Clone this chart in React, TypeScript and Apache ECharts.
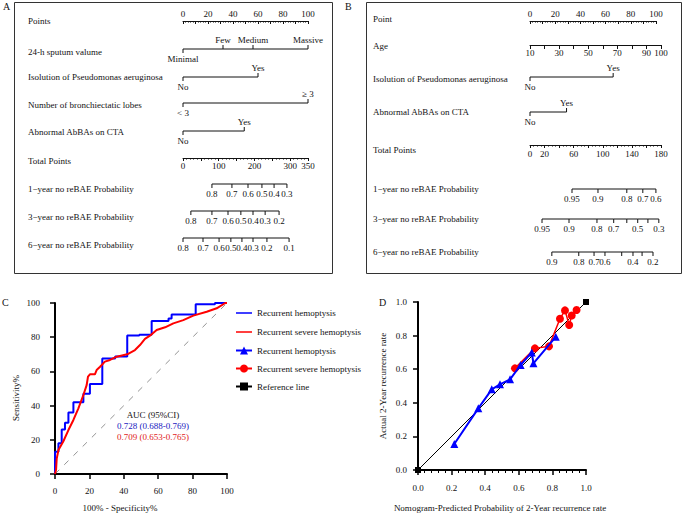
import React, { useEffect, useRef } from 'react';
import * as echarts from 'echarts';

const FONT = '"Liberation Serif", "Times New Roman", serif';
const BLUE = '#0000ff';
const RED = '#ff0000';
const INK = '#111';

// ---------- Panel A nomogram ----------
const aPointsLabels = [0, 20, 40, 60, 80, 100];
const aSputumLevels = ['Minimal', 'Few', 'Medium', 'Massive'];
const aSputumPoints = [0, 32, 56, 100];
const aPseudoLevels = ['No', 'Yes'];
const aPseudoPoints = [0, 60];
const aLobesLevels = ['< 3', '≥ 3'];
const aLobesPoints = [0, 100];
const aAbbaLevels = ['No', 'Yes'];
const aAbbaPoints = [0, 49];
const aTotalMax = 350;
const aTotalLabels = [0, 100, 200, 300, 350];
const aProb1Labels = ['0.8', '0.7', '0.6', '0.5', '0.4', '0.3'];
const aProb1Total = [81, 137, 182, 221, 255, 291];
const aProb3Labels = ['0.8', '0.7', '0.6', '0.5', '0.4', '0.3', '0.2'];
const aProb3Total = [22, 81, 126, 162, 196, 230, 269];
const aProb6Labels = ['0.8', '0.7', '0.6', '0.5', '0.4', '0.3', '0.2', '0.1'];
const aProb6Total = [0, 56, 101, 134, 165, 196, 235, 297];

// ---------- Panel B nomogram ----------
const bPointsLabels = [0, 20, 40, 60, 80, 100];
const bAgeLabels = [10, 30, 50, 70, 90, 100];
const bPseudoLevels = ['No', 'Yes'];
const bPseudoPoints = [0, 66];
const bAbbaLevels = ['No', 'Yes'];
const bAbbaPoints = [0, 29];
const bTotalMax = 180;
const bTotalLabels = [0, 20, 60, 100, 140, 180];
const bProb1Labels = ['0.95', '0.9', '0.8', '0.7', '0.6'];
const bProb1Total = [57.7, 93.4, 133, 155, 173];
const bProb3Labels = ['0.95', '0.9', '0.8', '0.7', '0.6', '0.5', '0.4', '0.3'];
const bProb3Total = [16.5, 53.6, 92, 115, 133, 148, 162, 177];
const bProb3Shown = [true, true, true, true, false, true, false, true];
const bProb6Labels = ['0.9', '0.8', '0.7', '0.6', '0.5', '0.4', '0.3', '0.2'];
const bProb6Total = [30, 67, 88, 103, 126, 141.5, 154, 169];
const bProb6Shown = [true, true, true, true, false, true, false, true];

// ---------- Panel C ROC ----------
const rocBlue: number[][] = [
  [0, 0], [0, 13], [2, 13], [2, 18], [3.9, 18], [3.9, 26], [5.8, 26], [5.8, 30], [7.8, 30], [7.8, 36],
  [10.7, 36], [10.7, 42], [16.5, 42], [16.5, 47], [20.3, 47], [20.3, 52.6], [27.5, 52.6], [27.5, 67.6],
  [35, 67.6], [35, 68.7], [42, 68.7], [42, 81], [49, 81], [49, 81.5], [56.2, 81.5], [56.2, 89.5],
  [66, 89.5], [66, 91], [67.8, 91], [67.8, 93.3], [81.8, 93.3], [81.8, 99.2], [93, 99.2], [93, 100], [100, 100],
];
const rocRed: number[][] = [
  [0, 0], [0.6, 2.3], [1, 9], [2, 14], [4.8, 19], [7.8, 25.7], [10.7, 31.6], [13.6, 38.4], [16.5, 46.2],
  [18.4, 52], [19.2, 57], [20.3, 58.3], [23.2, 58.3], [24.2, 60.8], [26.2, 62.7], [29, 65.7], [32, 66.7],
  [35.9, 68.6], [42, 70], [46.5, 72.5], [49.4, 75.4], [52.3, 79], [55.2, 80.9], [59.1, 84.2], [64, 85.8],
  [68.8, 88.1], [74.6, 90], [80.4, 92.6], [88.2, 94.9], [94, 96.9], [99, 100], [100, 100],
];
const rocDiagonal: number[][] = [[0, 0], [100, 100]];
const aucTitle = 'AUC (95%CI)';
const aucBlue = '0.728 (0.688-0.769)';
const aucRed = '0.709 (0.653-0.765)';

// ---------- Panel D calibration ----------
const calBlueX = [0.216, 0.359, 0.439, 0.488, 0.548, 0.611, 0.677, 0.687, 0.82];
const calBlueY = [0.155, 0.367, 0.48, 0.51, 0.54, 0.625, 0.7, 0.635, 0.793];
const calRedX = [0.577, 0.696, 0.78, 0.845, 0.875, 0.9, 0.915, 0.944];
const calRedY = [0.605, 0.724, 0.736, 0.9, 0.95, 0.863, 0.92, 0.952];
const refX = [0, 1];
const refY = [0, 1];

const legendNames = [
  'Recurrent hemoptysis|C',
  'Recurrent severe hemoptysis|C',
  'Recurrent hemoptysis|D',
  'Recurrent severe hemoptysis|D',
  'Reference line|D',
];
// thin horizontal bar inside a 16x10 box (corner dots keep the box size)
const LINE_ICON = 'path://M0,4.2h16v1.6h-16zM0,0h0.01v0.01h-0.01zM15.99,9.99h0.01v0.01h-0.01z';

function buildOption() {
  const grid: any[] = [];
  const xAxis: any[] = [];
  const yAxis: any[] = [];
  const series: any[] = [];
  const graphic: any[] = [];

  const text = (x: number, y: number, t: string, extra: any = {}) =>
    graphic.push({
      type: 'text', x, y, silent: true,
      style: { text: t, fontSize: 9, fontFamily: FONT, fill: INK, verticalAlign: 'middle', ...extra },
    });

  function addAxisRow(left: number, width: number, lineY: number, min: number, max: number,
    interval: number, labels: number[], pos: 'top' | 'bottom', minorSplit: number, tickLen: number, margin = 3) {
    const gi = grid.length;
    grid.push({ left, width, top: pos === 'top' ? lineY : lineY - 10, height: 10 });
    xAxis.push({
      gridIndex: gi, type: 'value', min, max, interval, position: pos,
      axisLine: { onZero: false, lineStyle: { color: INK, width: 1 } },
      axisTick: { show: true, inside: pos === 'top', length: tickLen, lineStyle: { color: INK, width: 1 } },
      minorTick: { show: minorSplit > 0, splitNumber: minorSplit || 5, length: tickLen / 2, lineStyle: { color: INK, width: 1 } },
      axisLabel: {
        margin, fontSize: 9, fontFamily: FONT, color: INK, hideOverlap: false,
        showMinLabel: true, showMaxLabel: true,
        formatter: (v: number) => (labels.indexOf(Math.round(v * 1000) / 1000) >= 0 ? String(v) : ''),
      },
      splitLine: { show: false }, minorSplitLine: { show: false },
    });
    yAxis.push({ gridIndex: gi, type: 'value', min: 0, max: 1, show: false });
  }

  function addScaleRow(left: number, width: number, lineY: number, min: number, max: number,
    xs: number[], labels: string[], up: boolean[], shown?: boolean[]) {
    const gi = grid.length;
    grid.push({ left, width, top: lineY - 10, height: 20 });
    xAxis.push({ gridIndex: gi, type: 'value', min, max, show: false, splitLine: { show: false } });
    yAxis.push({ gridIndex: gi, type: 'value', min: -1, max: 1, show: false, splitLine: { show: false } });
    series.push({
      type: 'line', xAxisIndex: gi, yAxisIndex: gi, silent: true,
      symbol: 'rect', symbolSize: [1, 4], showSymbol: true, showAllSymbol: true,
      lineStyle: { color: INK, width: 1 }, itemStyle: { color: INK },
      data: xs.map((x, i) => ({
        value: [x, 0],
        symbolOffset: [0, up[i] ? -2 : 2],
        label: {
          show: shown ? shown[i] : true, position: up[i] ? 'top' : 'bottom', distance: 1,
          formatter: labels[i], fontSize: 9, fontFamily: FONT, color: INK,
        },
      })),
    });
  }

  const upLast = (n: number) => Array.from({ length: n }, (_, i) => i > 0);
  const allDown = (n: number) => Array.from({ length: n }, () => false);

  // ---- Panel A ----
  const aL = 183, aW = 125;
  addAxisRow(aL, aW, 21, 0, 100, 10, aPointsLabels, 'top', 5, 3);
  addScaleRow(aL, aW, 49, 0, 100, aSputumPoints, aSputumLevels, upLast(aSputumLevels.length));
  addScaleRow(aL, aW, 77, 0, 100, aPseudoPoints, aPseudoLevels, upLast(aPseudoLevels.length));
  addScaleRow(aL, aW, 103, 0, 100, aLobesPoints, aLobesLevels, upLast(aLobesLevels.length));
  addScaleRow(aL, aW, 131, 0, 100, aAbbaPoints, aAbbaLevels, upLast(aAbbaLevels.length));
  addAxisRow(aL, aW, 158, 0, aTotalMax, 50, aTotalLabels, 'bottom', 5, 3);
  addScaleRow(aL, aW, 184, 0, aTotalMax, aProb1Total, aProb1Labels, allDown(aProb1Labels.length));
  addScaleRow(aL, aW, 211, 0, aTotalMax, aProb3Total, aProb3Labels, allDown(aProb3Labels.length));
  addScaleRow(aL, aW, 238, 0, aTotalMax, aProb6Total, aProb6Labels, allDown(aProb6Labels.length));

  // ---- Panel B ----
  const bL = 530, bW = 126, bWT = 131;
  addAxisRow(bL, bW, 21, 0, 100, 10, bPointsLabels, 'top', 5, 3);
  addAxisRow(bL, bWT, 45, 10, 100, 10, bAgeLabels, 'bottom', 0, 4);
  addScaleRow(bL, bW, 77, 0, 100, bPseudoPoints, bPseudoLevels, upLast(bPseudoLevels.length));
  addScaleRow(bL, bW, 112, 0, 100, bAbbaPoints, bAbbaLevels, upLast(bAbbaLevels.length));
  addAxisRow(bL, bWT, 145, 0, bTotalMax, 20, bTotalLabels, 'bottom', 4, 3, 4);
  addScaleRow(bL, bWT, 189, 0, bTotalMax, bProb1Total, bProb1Labels, allDown(bProb1Labels.length));
  addScaleRow(bL, bWT, 219, 0, bTotalMax, bProb3Total, bProb3Labels, allDown(bProb3Labels.length), bProb3Shown);
  addScaleRow(bL, bWT, 252, 0, bTotalMax, bProb6Total, bProb6Labels, allDown(bProb6Labels.length), bProb6Shown);

  // ---- Panel C ----
  const cGi = grid.length;
  grid.push({ left: 55, top: 303, width: 172, height: 171 });
  const axisCommon = {
    axisLine: { onZero: false, lineStyle: { color: '#000', width: 2 } },
    axisTick: { show: true, length: 5, lineStyle: { color: '#000', width: 1.5 } },
    splitLine: { show: false },
  };
  xAxis.push({ gridIndex: cGi, type: 'value', min: 0, max: 100, interval: 20, ...axisCommon,
    axisLabel: { margin: 12, fontSize: 9, fontFamily: FONT, color: INK } });
  yAxis.push({ gridIndex: cGi, type: 'value', min: 0, max: 100, interval: 20, ...axisCommon,
    axisLabel: { margin: 15, fontSize: 9, fontFamily: FONT, color: INK } });
  series.push({
    type: 'line', xAxisIndex: cGi, yAxisIndex: cGi, silent: true, symbol: 'none', data: rocDiagonal,
    lineStyle: { color: '#777', width: 0.8, type: [6, 7] }, z: 1,
  });
  series.push({
    name: legendNames[0], type: 'line', xAxisIndex: cGi, yAxisIndex: cGi, symbol: 'none', data: rocBlue,
    lineStyle: { color: BLUE, width: 2 }, itemStyle: { color: BLUE }, z: 2,
  });
  series.push({
    name: legendNames[1], type: 'line', xAxisIndex: cGi, yAxisIndex: cGi, symbol: 'none', data: rocRed,
    lineStyle: { color: RED, width: 2 }, itemStyle: { color: RED }, z: 3,
  });

  // ---- Panel D ----
  const dGi = grid.length;
  grid.push({ left: 418, top: 302, width: 168, height: 168 });
  xAxis.push({ gridIndex: dGi, type: 'value', min: 0, max: 1, interval: 0.2, ...axisCommon,
    minorTick: { show: true, splitNumber: 5, length: 3, lineStyle: { color: '#000', width: 1 } },
    minorSplitLine: { show: false },
    axisLabel: { margin: 13, fontSize: 9, fontFamily: FONT, color: INK, formatter: (v: number) => v.toFixed(1) } });
  yAxis.push({ gridIndex: dGi, type: 'value', min: 0, max: 1, interval: 0.2, ...axisCommon,
    axisLabel: { margin: 11, fontSize: 9, fontFamily: FONT, color: INK, formatter: (v: number) => v.toFixed(1) } });
  series.push({
    name: legendNames[4], type: 'line', xAxisIndex: dGi, yAxisIndex: dGi, symbol: 'rect', symbolSize: 6,
    data: refX.map((x, i) => [x, refY[i]]), lineStyle: { color: '#000', width: 1 }, itemStyle: { color: '#000' }, z: 2,
  });
  series.push({
    name: legendNames[3], type: 'line', xAxisIndex: dGi, yAxisIndex: dGi, symbol: 'circle', symbolSize: 8,
    data: calRedX.map((x, i) => [x, calRedY[i]]), lineStyle: { color: RED, width: 1.5 }, itemStyle: { color: RED }, z: 3,
  });
  series.push({
    name: legendNames[2], type: 'line', xAxisIndex: dGi, yAxisIndex: dGi, symbol: 'triangle', symbolSize: 8,
    data: calBlueX.map((x, i) => [x, calBlueY[i]]), lineStyle: { color: BLUE, width: 2 }, itemStyle: { color: BLUE }, z: 4,
  });

  // ---- boxes and texts ----
  graphic.push({ type: 'rect', silent: true, shape: { x: 14.5, y: 2.5, width: 318, height: 271 }, style: { fill: 'none', stroke: '#333', lineWidth: 1 } });
  graphic.push({ type: 'rect', silent: true, shape: { x: 366.5, y: 2.5, width: 315, height: 271 }, style: { fill: 'none', stroke: '#333', lineWidth: 1 } });
  text(3, 6, 'A', { fontSize: 10 });
  text(345, 6, 'B', { fontSize: 10 });
  text(2, 302, 'C', { fontSize: 10 });
  text(379, 302, 'D', { fontSize: 10 });

  const aRows: [string, number][] = [
    ['Points', 21], ['24-h sputum valume', 52], ['Isolution of Pseudomonas aeruginosa', 77],
    ['Number of bronchiectatic lobes', 105], ['Abnormal AbBAs on CTA', 132], ['Total Points', 161],
    ['1−year no reBAE Probability', 189], ['3−year no reBAE Probability', 217], ['6−year no reBAE Probability', 245],
  ];
  aRows.forEach(([t, y]) => text(28, y, t));
  const bRows: [string, number][] = [
    ['Point', 19], ['Age', 46], ['Isolution of Pseudomonas aeruginosa', 79], ['Abnormal AbBAs on CTA', 112],
    ['Total Points', 150], ['1−year no reBAE Probability', 189], ['3−year no reBAE Probability', 219],
    ['6−year no reBAE Probability', 252],
  ];
  bRows.forEach(([t, y]) => text(373, y, t));

  text(16, 398, 'Sensitivity%', { align: 'center' });
  graphic[graphic.length - 1].rotation = Math.PI / 2;
  text(120, 508, '100% - Specificity%', { align: 'center' });
  text(153, 415, aucTitle, { align: 'center' });
  text(153, 426, aucBlue, { align: 'center', fill: '#2020c0' });
  text(153, 437, aucRed, { align: 'center', fill: '#e02020' });

  text(383, 386, 'Actual 2-Year recurrence rate', { align: 'center' });
  graphic[graphic.length - 1].rotation = Math.PI / 2;
  text(500, 508, 'Nomogram-Predicted Probability of 2-Year recurrence rate', { align: 'center' });

  return {
    animation: false,
    backgroundColor: '#fff',
    textStyle: { fontFamily: FONT },
    legend: {
      orient: 'vertical', left: 235, top: 308, padding: 0, itemWidth: 16, itemHeight: 10, itemGap: 9,
      selectedMode: false,
      data: legendNames.map((n, i) => (i < 2 ? { name: n, icon: LINE_ICON } : { name: n })),
      textStyle: { fontSize: 9, fontFamily: FONT, color: INK },
      formatter: (n: string) => n.split('|')[0],
    },
    grid, xAxis, yAxis, series, graphic,
  };
}

export default function App() {
  const ref = useRef<HTMLDivElement>(null);
  useEffect(() => {
    const chart = echarts.init(ref.current!, null, { renderer: 'svg' });
    chart.setOption(buildOption() as any);
    return () => chart.dispose();
  }, []);
  return <div ref={ref} style={{ position: 'fixed', left: 0, top: 0, width: 685, height: 514 }} />;
}
